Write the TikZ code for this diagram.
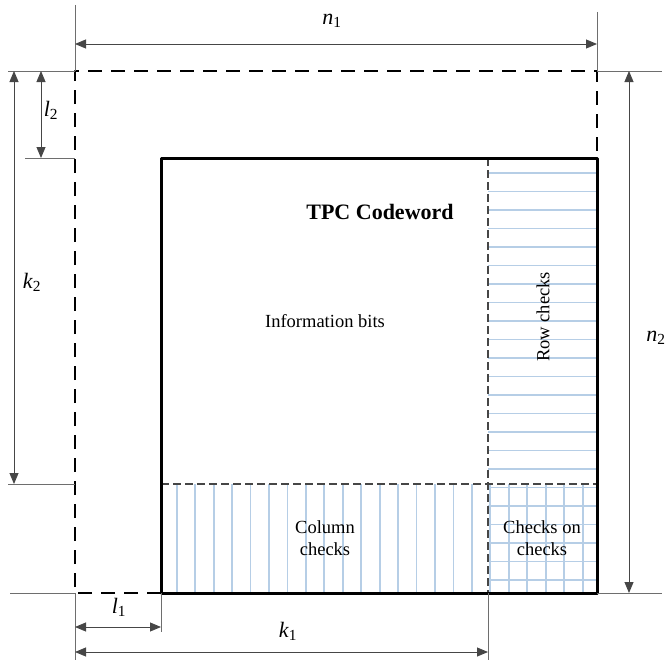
\documentclass[tikz,border=0pt]{standalone}
\usepackage{fontspec}
\setmainfont{Liberation Serif}
\usetikzlibrary{arrows.meta}
\definecolor{hatchblue}{RGB}{182,206,230}
\definecolor{dimgray}{RGB}{70,70,70}
\definecolor{extgray}{RGB}{110,110,110}
\newcommand{\dimvar}[2]{\textit{#1}\textsubscript{#2}}
\tikzset{
  hatch/.style={hatchblue, line width=1.8pt},
  extline/.style={extgray, line width=0.9pt},
  dimline/.style={dimgray, line width=0.9pt, <->},
  dimlabel/.style={font=\fontsize{22}{24}\selectfont},
  outerbox/.style={line width=2.6pt, dash pattern=on 14pt off 9pt},
  innerdiv/.style={dimgray, line width=1.1pt, dash pattern=on 8pt off 4pt},
  region/.style={align=center, font=\fontsize{18.5}{22}\selectfont}
}
\begin{document}
\begin{tikzpicture}[x=1pt, y=-1pt, line join=round, >={Triangle[length=11pt,width=9pt]}]
\useasboundingbox (0,0) rectangle (669,661);
\coordinate (oTL) at (75,71);
\coordinate (oTR) at (597,71);
\coordinate (oBL) at (75,593);
\coordinate (iTL) at (161,158);
\coordinate (iBL) at (161,593);
\coordinate (iBR) at (597,593);
\coordinate (iTR) at (597,158);
\coordinate (dT) at (488,158);
\coordinate (dB) at (488,593);
\coordinate (hL) at (161,484);
\coordinate (hR) at (597,484);

\foreach \y in {173,191.5,...,592}{\draw[hatch] (488,\y) -- (597,\y);}
\foreach \x in {176.7,195.15,...,596}{\draw[hatch] (\x,484) -- (\x,593);}

\draw[innerdiv] (dT) -- (dB);
\draw[innerdiv] (hL) -- (hR);
\draw[line width=3pt] (iTL) rectangle (iBR);
\draw[outerbox] (iBL) -- (oBL) -- (oTL) -- (oTR) -- (iTR);

\draw[extline] (75,5) -- (oTL);
\draw[extline] (597,12) -- (oTR);
\draw[extline] (8,71) -- (oTL);
\draw[extline] (oTR) -- (662,71);
\draw[extline] (25,158) -- (75,158);
\draw[extline] (8,484) -- (75,484);
\draw[extline] (10,593) -- (oBL);
\draw[extline] (iBR) -- (662,593);
\draw[extline] (oBL) -- (75,660);
\draw[extline] (iBL) -- (161,632);
\draw[extline] (dB) -- (488,660);

\coordinate (n1l) at (75,44);   \coordinate (n1r) at (597,44);
\coordinate (n2t) at (629,71);  \coordinate (n2b) at (629,593);
\coordinate (k2t) at (14,71);   \coordinate (k2b) at (14,484);
\coordinate (l2t) at (41,71);   \coordinate (l2b) at (41,158);
\coordinate (l1l) at (75,627);  \coordinate (l1r) at (161,627);
\coordinate (k1l) at (75,652);  \coordinate (k1r) at (488,652);

\draw[dimline] (n1l) -- (n1r);
\draw[dimline] (n2t) -- (n2b);
\draw[dimline] (k2t) -- (k2b);
\draw[dimline] (l2t) -- (l2b);
\draw[dimline] (l1l) -- (l1r);
\draw[dimline] (k1l) -- (k1r);

\node[dimlabel] (n1) at (332,21) {\dimvar{n}{1}};
\node[dimlabel] (n2) at (656,338) {\dimvar{n}{2}};
\node[dimlabel] (k2) at (32,282) {\dimvar{k}{2}};
\node[dimlabel] (l2) at (51,110) {\dimvar{l}{2}};
\node[dimlabel] (l1) at (119,607) {\dimvar{l}{1}};
\node[dimlabel] (k1) at (288,631) {\dimvar{k}{1}};

\node[font=\fontsize{22}{24}\selectfont\bfseries] (title) at (380,212) {TPC Codeword};
\node[region] (info) at (325,321) {Information bits};
\node[region, rotate=90] (rowc) at (543,317) {Row checks};
\node[region] (colc) at (325,538) {Column\\checks};
\node[region] (cocc) at (542,538) {Checks on\\checks};
\end{tikzpicture}
\end{document}
